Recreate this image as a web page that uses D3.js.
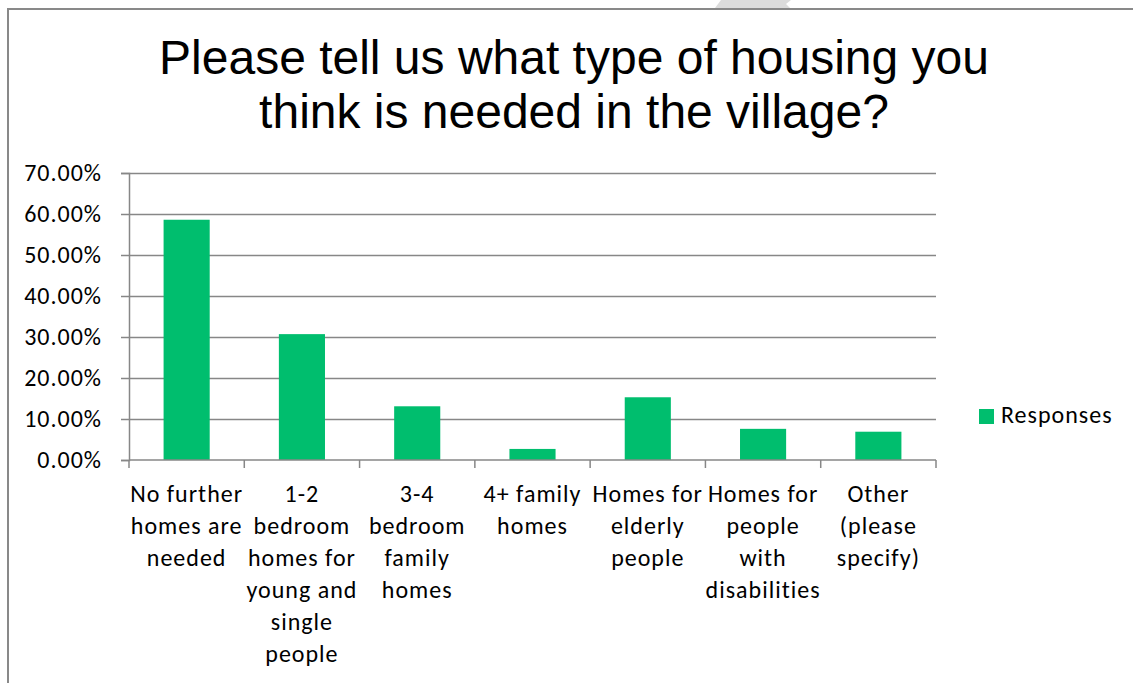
<!DOCTYPE html>
<html>
<head>
<meta charset="utf-8">
<script src="https://cdn.jsdelivr.net/npm/d3@7"></script>
<style>
  html, body { margin: 0; padding: 0; background: #fff; }
  svg { display: block; }
</style>
</head>
<body>
<svg id="chart" width="1133" height="683"></svg>
<script>
// Survey responses: share of respondents choosing each housing type
const categories = [
  "No further\nhomes are\nneeded",
  "1-2\nbedroom\nhomes for\nyoung and\nsingle\npeople",
  "3-4\nbedroom\nfamily\nhomes",
  "4+ family\nhomes",
  "Homes for\nelderly\npeople",
  "Homes for\npeople\nwith\ndisabilities",
  "Other\n(please\nspecify)"
];
const responses = [0.586, 0.307, 0.131, 0.027, 0.153, 0.076, 0.069];
const yTicks = [0, 0.1, 0.2, 0.3, 0.4, 0.5, 0.6, 0.7];
const seriesName = "Responses";
const titleLines = ["Please tell us what type of housing you", "think is needed in the village?"];

const svg = d3.select("#chart");
const W = 1133, H = 683;
const green = "#00be6e";
const gridColor = "#878787";
const labelFont = "Carlito, Calibri, Lato, sans-serif";
const labelSize = 24;
const labelSpacing = "1px";

// small grey tab peeking above the frame
svg.append("polygon")
  .attr("points", "715,8 721,0 791,0 786,4 790,8")
  .attr("fill", "#dcdcdc");

// chart frame (runs off the right and bottom edges)
svg.append("rect")
  .attr("x", 8).attr("y", 9)
  .attr("width", W + 20).attr("height", H + 20)
  .attr("fill", "none")
  .attr("stroke", "#898989")
  .attr("stroke-width", 2);

// title
svg.append("text")
  .attr("text-anchor", "middle")
  .attr("font-family", "'Liberation Sans', Arial, sans-serif")
  .attr("font-size", 48)
  .attr("fill", "#000")
  .selectAll("tspan")
  .data(titleLines)
  .join("tspan")
  .attr("x", 574)
  .attr("y", (d, i) => 74 + i * 54)
  .text(d => d);

const plot = { left: 129, right: 936, top: 173, bottom: 460 };

const x = d3.scaleBand()
  .domain(categories)
  .range([plot.left, plot.right])
  .paddingInner(0.6)
  .paddingOuter(0.3);

const y = d3.scaleLinear()
  .domain([0, 0.7])
  .range([plot.bottom, plot.top]);

// horizontal gridlines + y axis
const yAxis = d3.axisLeft(y)
  .tickValues(yTicks)
  .tickFormat(d3.format(".2%"))
  .tickSize(8)
  .tickPadding(19);

const gy = svg.append("g")
  .attr("transform", `translate(${plot.left},0)`)
  .call(yAxis);
gy.select(".domain").attr("stroke", gridColor).attr("stroke-width", 1.5);
gy.selectAll(".tick line").attr("stroke", gridColor).attr("stroke-width", 1.5);
gy.selectAll(".tick text")
  .attr("font-family", labelFont)
  .attr("font-size", labelSize)
  .attr("letter-spacing", labelSpacing)
  .attr("fill", "#000");

gy.selectAll(".tick")
  .filter(d => d > 0)
  .append("line")
  .attr("x1", 0)
  .attr("x2", plot.right - plot.left)
  .attr("stroke", gridColor)
  .attr("stroke-width", 1.5);

// bars
svg.append("g")
  .selectAll("rect")
  .data(categories)
  .join("rect")
  .attr("x", d => x(d))
  .attr("width", x.bandwidth())
  .attr("y", (d, i) => y(responses[i]))
  .attr("height", (d, i) => y(0) - y(responses[i]))
  .attr("fill", green);

// x axis: baseline and category dividers
const step = (plot.right - plot.left) / categories.length;
const gx = svg.append("g");
gx.append("line")
  .attr("x1", plot.left).attr("x2", plot.right)
  .attr("y1", plot.bottom).attr("y2", plot.bottom)
  .attr("stroke", gridColor).attr("stroke-width", 1.5);
gx.selectAll("line.div")
  .data(d3.range(categories.length + 1))
  .join("line")
  .attr("class", "div")
  .attr("x1", i => plot.left + i * step)
  .attr("x2", i => plot.left + i * step)
  .attr("y1", plot.bottom)
  .attr("y2", plot.bottom + 8)
  .attr("stroke", gridColor).attr("stroke-width", 1.5);

// category labels, wrapped
const catText = svg.append("g")
  .attr("font-family", labelFont)
  .attr("font-size", labelSize)
  .attr("letter-spacing", labelSpacing)
  .attr("fill", "#000")
  .attr("text-anchor", "middle")
  .selectAll("text")
  .data(categories)
  .join("text");
catText.selectAll("tspan")
  .data(d => d.split("\n").map(line => ({ line, cx: x(d) + x.bandwidth() / 2 })))
  .join("tspan")
  .attr("x", d => d.cx)
  .attr("y", (d, i) => 502 + i * 32)
  .text(d => d.line);

// legend
const lg = svg.append("g");
lg.append("rect")
  .attr("x", 979).attr("y", 409)
  .attr("width", 15).attr("height", 15)
  .attr("fill", green);
lg.append("text")
  .attr("x", 1001).attr("y", 423)
  .attr("font-family", labelFont)
  .attr("font-size", labelSize)
  .attr("letter-spacing", labelSpacing)
  .attr("fill", "#000")
  .text(seriesName);
</script>
</body>
</html>
